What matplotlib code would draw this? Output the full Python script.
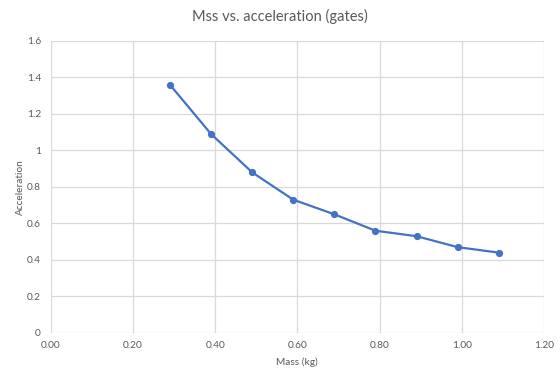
import matplotlib.pyplot as plt
import numpy as np

plt.rcParams['font.family'] = ['Lato', 'DejaVu Sans']

# data
mass = [0.29, 0.39, 0.49, 0.59, 0.69, 0.79, 0.89, 0.99, 1.09]
accel = [1.36, 1.09, 0.88, 0.73, 0.65, 0.56, 0.53, 0.47, 0.44]

xticks = np.arange(0, 1.21, 0.2)
yticks = np.arange(0, 1.61, 0.2)

txt = '#595959'
grid = '#d9d9d9'

fig = plt.figure(figsize=(5.6, 3.72), dpi=100)
ax = fig.add_axes([0.0905, 0.105, 0.881, 0.785])

ax.plot(mass, accel, color='#4472c4', lw=1.6, marker='o', ms=4.2, zorder=3)

ax.set_xlim(0, 1.2)
ax.set_ylim(0, 1.6)
ax.set_xticks(xticks)
ax.set_yticks(yticks)
ax.set_xticklabels(['%.2f' % v for v in xticks])
ax.set_yticklabels(['%g' % round(v, 1) for v in yticks])
ax.grid(True, color=grid, lw=0.9)
ax.set_axisbelow(True)
for s in ax.spines.values():
    s.set_visible(False)
ax.tick_params(length=0, labelsize=7.3, colors=txt)
ax.tick_params(axis='x', pad=6)
ax.tick_params(axis='y', pad=7)

ax.set_xlabel('Mass (kg)', fontsize=7.3, color=txt, va='center')
ax.set_ylabel('Acceleration', fontsize=7.3, color=txt, va='center')
ax.xaxis.set_label_coords(0.5, -0.1)
ax.yaxis.set_label_coords(-0.062, 0.5)
fig.text(0.5, 0.955, 'Mss vs. acceleration (gates)', ha='center', va='center',
         fontsize=10.5, color=txt)

fig.savefig('out.png', dpi=100)
